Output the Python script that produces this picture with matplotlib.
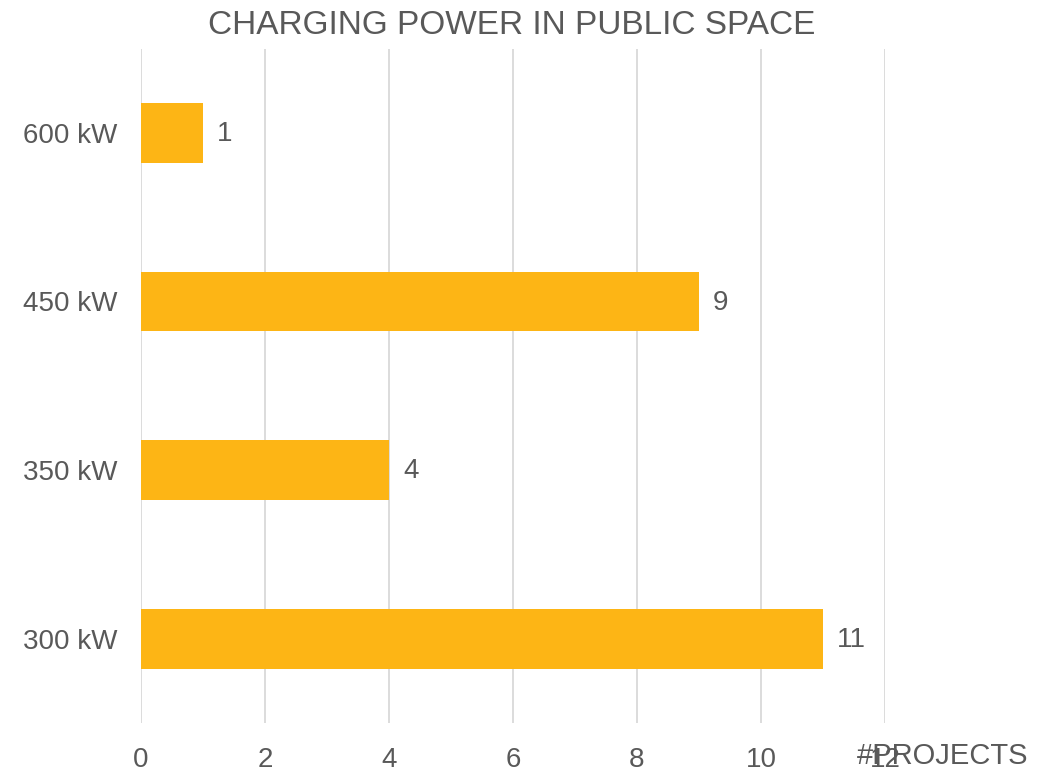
import matplotlib
matplotlib.use("Agg")
import matplotlib.pyplot as plt

categories = ["300 kW", "350 kW", "450 kW", "600 kW"]
projects = [11, 4, 9, 1]
x_ticks = [0, 2, 4, 6, 8, 10, 12]
title = "CHARGING POWER IN PUBLIC SPACE"
x_label = "#PROJECTS"

plt.rcParams['font.family'] = ['Liberation Sans', 'DejaVu Sans']
text_color = "#595959"
bar_color = "#FDB515"

fig = plt.figure(figsize=(10.49, 7.73), dpi=100)
ax = fig.add_axes([141/1049, 50/773, 744/1049, 674.5/773])

ypos = list(range(len(categories)))
ax.barh(ypos, projects, height=0.355, color=bar_color, zorder=3)
for y, v in zip(ypos, projects):
    ax.annotate(str(v), (v, y), xytext=(10, -1), textcoords="offset points",
                va="center", ha="left", fontsize=20, color=text_color)

ax.set_xlim(0, 12)
ax.set_ylim(-0.5, 3.5)
ax.set_xticks(x_ticks)
ax.set_xticklabels([str(t) for t in x_ticks])
ax.set_yticks(ypos)
ax.set_yticklabels(categories)
ax.tick_params(axis='x', length=0, pad=17, labelsize=20, labelcolor=text_color)
ax.tick_params(axis='y', length=0, pad=17, labelsize=20, labelcolor=text_color)
ax.grid(axis='x', color="#D9D9D9", linewidth=1.3, zorder=0)
for s in ax.spines.values():
    s.set_visible(False)

fig.text(512/1049, 1 - 25/773, title, ha="center", va="center", fontsize=24, color=text_color)
fig.text(1028/1049, 1 - 756/773, x_label, ha="right", va="center", fontsize=21, color=text_color)

fig.savefig("out.png", dpi=100)
